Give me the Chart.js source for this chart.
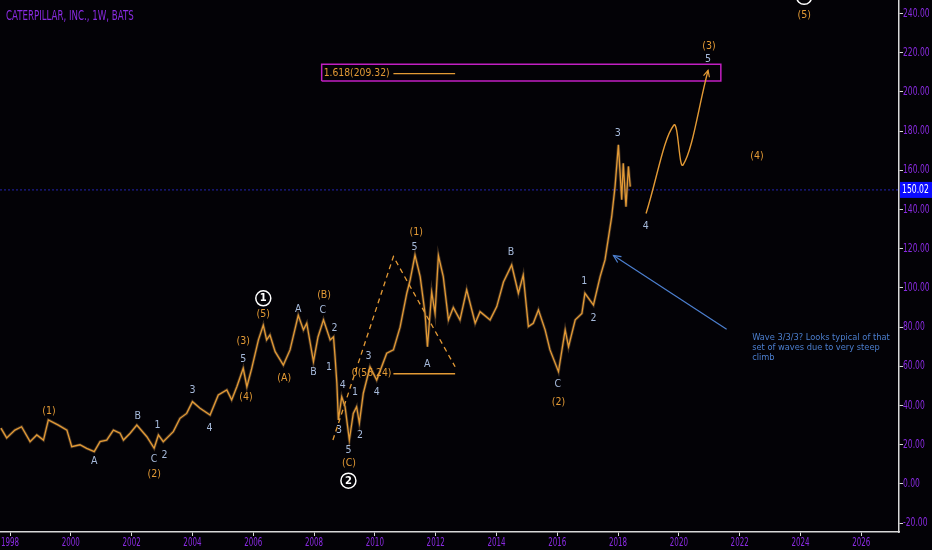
<!DOCTYPE html>
<html>
<head>
<meta charset="utf-8">
<title>CAT 1W</title>
<script src="https://cdn.jsdelivr.net/npm/chart.js@4.4.1/dist/chart.umd.min.js"></script>
<style>
  html, body { margin: 0; padding: 0; background: #030206; }
  #wrap { width: 932px; height: 550px; position: relative; }
</style>
</head>
<body>
<div id="wrap"><canvas id="chart"></canvas></div>
<script>
// weekly price (year, close)
const priceYears = [1997.70, 1997.89, 1998.16, 1998.38, 1998.66, 1998.88, 1999.10, 1999.26, 1999.59, 1999.87,
  2000.03, 2000.30, 2000.52, 2000.77, 2000.96, 2001.18, 2001.40, 2001.62, 2001.73, 2001.95,
  2002.17, 2002.50, 2002.74, 2002.88, 2003.04, 2003.37, 2003.59, 2003.81, 2004.00, 2004.25,
  2004.58, 2004.85, 2005.13, 2005.29, 2005.46, 2005.67, 2005.79, 2005.95, 2006.17, 2006.33,
  2006.44, 2006.55, 2006.72, 2006.99, 2007.21, 2007.48, 2007.65, 2007.76, 2007.98, 2008.13,
  2008.31, 2008.53, 2008.64, 2008.69, 2008.75, 2008.80, 2008.91, 2009.02, 2009.16, 2009.29,
  2009.40, 2009.49, 2009.62, 2009.84, 2010.06, 2010.39, 2010.61, 2010.83, 2011.05, 2011.16,
  2011.32, 2011.49, 2011.65, 2011.73, 2011.87, 2011.98, 2012.09, 2012.25, 2012.42, 2012.58,
  2012.80, 2013.02, 2013.30, 2013.46, 2013.79, 2014.01, 2014.23, 2014.50, 2014.72, 2014.88,
  2015.05, 2015.21, 2015.38, 2015.60, 2015.76, 2016.04, 2016.26, 2016.37, 2016.59, 2016.81,
  2016.91, 2017.19, 2017.41, 2017.57, 2017.79, 2017.90, 2018.01, 2018.12, 2018.17, 2018.26,
  2018.34, 2018.40];
const priceValues = [28.5, 23.5, 27.5, 29.2, 21.6, 25.0, 22.4, 32.7, 30.0, 27.5,
  19.0, 20.0, 18.2, 16.5, 21.6, 22.4, 27.5, 25.9, 22.4, 25.9,
  30.1, 24.1, 18.2, 25.0, 21.6, 26.7, 33.5, 36.0, 42.0, 38.6,
  35.2, 45.4, 48.0, 42.9, 49.6, 59.0, 49.6, 59.0, 73.5, 81.0,
  73.5, 76.0, 67.5, 60.7, 68.4, 86.0, 78.6, 82.0, 62.4, 75.0,
  83.7, 73.5, 75.0, 65.0, 51.4, 32.7, 44.5, 39.4, 22.4, 36.0,
  39.4, 31.0, 46.3, 59.8, 53.0, 66.7, 68.4, 80.0, 97.3, 104.0,
  116.8, 105.8, 87.0, 70.0, 97.9, 87.0, 116.5, 105.8, 83.7, 90.0,
  83.7, 99.0, 82.0, 87.9, 83.7, 90.5, 103.0, 111.7, 97.3, 106.6,
  80.3, 82.0, 88.8, 78.6, 68.4, 57.3, 78.6, 70.0, 83.7, 87.0,
  97.3, 91.3, 105.8, 114.3, 136.4, 151.7, 173.0, 145.0, 163.6, 141.5,
  162.0, 151.7];

// projected path 4 -> 5
const projYears = [2018.92, 2019.83, 2020.14, 2020.96];
const projValues = [138, 183, 162.8, 211];

// dashed triangle and fib levels
const triYears = [2008.62, 2010.61, 2012.64];
const triValues = [22.4, 116, 59.8];
const fibYears = [2010.61, 2012.64];
const fibHigh = 209.32;
const fibLow = 56.24;
const boxYears = [2008.25, 2021.38];
const boxValues = [205.6, 214.1];
const lastPrice = 150.02;

// blue note arrow (tail, tip)
const noteYears = [2021.57, 2017.85];
const noteValues = [78.9, 116.5];
const noteLines = ['Wave 3/3/3? Looks typical of that', 'set of waves due to very steep', 'climb'];

const xTicks = [1998, 2000, 2002, 2004, 2006, 2008, 2010, 2012, 2014, 2016, 2018, 2020, 2022, 2024, 2026];
const yTicks = [-20, 0, 20, 40, 60, 80, 100, 120, 140, 160, 180, 200, 220, 240];

// wave labels: o = orange, b = blue-grey, c = circled
const waveText = ['(1)', 'A', 'B', '1', 'C', '2', '(2)', '3', '4', '5', '(3)', '(4)', '1', '(5)', '(A)', 'A',
  'B', 'C', '(B)', '2', '1', '4', '3', '5', '(C)', '2', '1', '2', '3', '4', '(1)', '5', 'A',
  'B', 'C', '(2)', '1', '2', '3', '4', '(3)', '5', '(4)', '(5)', '3'];
const waveX = [1999.28, 2000.77, 2002.20, 2002.85, 2002.74, 2003.08, 2002.74, 2004.00, 2004.56, 2005.67, 2005.67, 2005.76, 2006.33, 2006.33, 2007.02, 2007.48,
  2007.98, 2008.29, 2008.33, 2008.67, 2008.49, 2008.94, 2008.82, 2009.13, 2009.15, 2009.13, 2009.35, 2009.51, 2009.79, 2010.06, 2011.36, 2011.30, 2011.72,
  2014.48, 2016.02, 2016.04, 2016.89, 2017.19, 2017.99, 2018.91, 2020.99, 2020.96, 2022.57, 2024.12, 2024.12];
const waveY = [37.4, 11.4, 34.7, 30.1, 12.8, 14.8, 5.1, 48.0, 28.7, 63.8, 73.1, 44.5, 94.7, 86.7, 54.2, 89.1,
  57.3, 88.8, 96.4, 79.4, 59.5, 50.5, 27.6, 17.3, 10.6, 1.7, 46.8, 25.0, 65.3, 46.6, 128.7, 120.8, 61.1,
  118.5, 50.9, 42.0, 103.7, 84.5, 178.9, 131.6, 223.5, 216.7, 167.0, 239.3, 248.5];
const waveKind = ['o', 'b', 'b', 'b', 'b', 'b', 'o', 'b', 'b', 'b', 'o', 'o', 'c', 'o', 'o', 'b',
  'b', 'b', 'o', 'b', 'b', 'b', 'b', 'b', 'o', 'c', 'b', 'b', 'b', 'b', 'o', 'b', 'b',
  'b', 'b', 'o', 'b', 'b', 'b', 'b', 'o', 'b', 'o', 'o', 'c'];

const ORANGE = '#e39a35';
const WAVE = '#a6badb';
const PURPLE = '#8a2be2';
const NOTE = '#4c7fcf';
const FONT = "'DejaVu Sans', sans-serif";

function pts(xs, ys) {
  return xs.map((x, i) => ({ x: x, y: ys[i] }));
}

const xMin = 1997.67, xMax = 2027.24;

function arrowHead(ctx, tipX, tipY, fromX, fromY, len, color) {
  let a = Math.atan2(tipY - fromY, tipX - fromX);
  ctx.save();
  ctx.strokeStyle = color;
  ctx.lineWidth = 1.2;
  ctx.beginPath();
  ctx.moveTo(tipX - len * Math.cos(a - 0.45), tipY - len * Math.sin(a - 0.45));
  ctx.lineTo(tipX, tipY);
  ctx.lineTo(tipX - len * Math.cos(a + 0.45), tipY - len * Math.sin(a + 0.45));
  ctx.stroke();
  ctx.restore();
}

// squeezed text, like the narrow font of the original
function narrowText(ctx, s, x, y, sx) {
  ctx.save();
  ctx.translate(x, y);
  ctx.scale(sx, 1);
  ctx.fillText(s, 0, 0);
  ctx.restore();
}

const background = {
  id: 'background',
  beforeDraw(chart) {
    let ctx = chart.ctx;
    ctx.save();
    ctx.fillStyle = '#030206';
    ctx.fillRect(0, 0, chart.width, chart.height);
    ctx.restore();
  }
};

const annotations = {
  id: 'annotations',
  afterDatasetsDraw(chart) {
    let ctx = chart.ctx;
    let xs = chart.scales.x, ys = chart.scales.y;
    let area = chart.chartArea;

    ctx.save();
    ctx.textAlign = 'center';
    ctx.textBaseline = 'middle';
    ctx.font = '11px ' + FONT;
    for (let i = 0; i < waveText.length; i++) {
      let px = xs.getPixelForValue(waveX[i]);
      let py = ys.getPixelForValue(waveY[i]);
      if (waveKind[i] === 'c') {
        ctx.strokeStyle = '#ffffff';
        ctx.lineWidth = 1.5;
        ctx.beginPath();
        ctx.arc(px, py, 7.5, 0, Math.PI * 2);
        ctx.stroke();
        ctx.fillStyle = '#ffffff';
        ctx.font = 'bold 10px ' + FONT;
        ctx.fillText(waveText[i], px, py + 0.5);
        ctx.font = '11px ' + FONT;
      } else {
        ctx.fillStyle = waveKind[i] === 'o' ? ORANGE : WAVE;
        narrowText(ctx, waveText[i], px, py, 0.86);
      }
    }

    // fib texts
    ctx.fillStyle = ORANGE;
    ctx.font = '10.5px ' + FONT;
    ctx.textAlign = 'left';
    narrowText(ctx, '1.618(209.32)', xs.getPixelForValue(boxYears[0]) + 2, ys.getPixelForValue(fibHigh), 0.88);
    ctx.textAlign = 'right';
    narrowText(ctx, '0(56.24)', xs.getPixelForValue(fibYears[0]) - 2, ys.getPixelForValue(fibLow), 0.88);

    // projection arrow head
    let pi = chart.data.datasets.findIndex(d => d.label === 'proj');
    let proj = chart.getDatasetMeta(pi).data;
    let last = proj[proj.length - 1];
    arrowHead(ctx, last.x, last.y, last.cp1x, last.cp1y, 7, ORANGE);

    // note arrow head and text
    let tx = xs.getPixelForValue(noteYears[1]), ty = ys.getPixelForValue(noteValues[1]);
    let fx = xs.getPixelForValue(noteYears[0]), fy = ys.getPixelForValue(noteValues[0]);
    arrowHead(ctx, tx, ty, fx, fy, 8, NOTE);
    ctx.fillStyle = NOTE;
    ctx.textAlign = 'left';
    ctx.font = '9.5px ' + FONT;
    let nx = xs.getPixelForValue(2022.41), ny = ys.getPixelForValue(74.5);
    noteLines.forEach((s, i) => narrowText(ctx, s, nx, ny + i * 10, 0.87));

    // title
    ctx.fillStyle = PURPLE;
    ctx.font = '13.5px ' + FONT;
    narrowText(ctx, 'CATERPILLAR, INC., 1W, BATS', 6, 16, 0.64);

    // axis labels
    ctx.font = '11.5px ' + FONT;
    ctx.fillStyle = PURPLE;
    ys.ticks.forEach(t => narrowText(ctx, t.value.toFixed(2), area.right + 4, ys.getPixelForValue(t.value), 0.66));
    ctx.textAlign = 'center';
    xs.ticks.forEach(t => narrowText(ctx, String(t.value), xs.getPixelForValue(t.value), area.bottom + 11, 0.62));

    // last price tag
    let lp = ys.getPixelForValue(lastPrice);
    ctx.fillStyle = '#0b0bff';
    ctx.fillRect(area.right + 1, lp - 8, chart.width - area.right - 1, 16);
    ctx.fillStyle = '#ffffff';
    ctx.textAlign = 'left';
    ctx.font = '12px ' + FONT;
    narrowText(ctx, lastPrice.toFixed(2), area.right + 3, lp, 0.64);
    ctx.restore();
  }
};

new Chart(document.getElementById('chart'), {
  type: 'line',
  data: {
    datasets: [
      { label: 'price', data: pts(priceYears, priceValues), borderColor: ORANGE, borderWidth: 1.3, pointRadius: 0, tension: 0 },
      { label: 'band', data: pts(priceYears, priceValues), borderColor: 'rgba(200,150,90,0.3)', borderWidth: 3, pointRadius: 0, tension: 0 },
      { label: 'proj', data: pts(projYears, projValues), borderColor: ORANGE, borderWidth: 1.4, pointRadius: 0, tension: 0.4 },
      { label: 'tri', data: pts(triYears, triValues), borderColor: ORANGE, borderWidth: 1.3, borderDash: [5, 4], pointRadius: 0 },
      { label: 'fib1618', data: pts(fibYears, [fibHigh, fibHigh]), borderColor: ORANGE, borderWidth: 1.3, pointRadius: 0 },
      { label: 'fib0', data: pts(fibYears, [fibLow, fibLow]), borderColor: ORANGE, borderWidth: 1.5, pointRadius: 0 },
      { label: 'last', data: pts([xMin, xMax], [lastPrice, lastPrice]), borderColor: '#2424b0', borderWidth: 1, borderDash: [2, 2], pointRadius: 0 },
      { label: 'box', data: pts([boxYears[0], boxYears[1], boxYears[1], boxYears[0], boxYears[0]], [boxValues[0], boxValues[0], boxValues[1], boxValues[1], boxValues[0]]),
        borderColor: '#c21fc2', borderWidth: 1.5, pointRadius: 0 },
      { label: 'note', data: pts(noteYears, noteValues), borderColor: NOTE, borderWidth: 1.2, pointRadius: 0 }
    ]
  },
  options: {
    responsive: true,
    maintainAspectRatio: false,
    animation: false,
    layout: { padding: 0 },
    plugins: { legend: { display: false }, tooltip: { enabled: false } },
    scales: {
      x: {
        type: 'linear',
        min: xMin,
        max: xMax,
        afterBuildTicks: (s) => { s.ticks = xTicks.map(v => ({ value: v })); },
        afterFit: (s) => { s.height = 18; },
        grid: { drawOnChartArea: false, drawTicks: true, tickLength: 4, color: '#d8d8d8' },
        border: { display: true, color: '#d8d8d8', width: 1.5 },
        ticks: { display: false }
      },
      y: {
        position: 'right',
        min: -24.5,
        max: 246.9,
        afterBuildTicks: (s) => { s.ticks = yTicks.map(v => ({ value: v })); },
        afterFit: (s) => { s.width = 33; },
        grid: { drawOnChartArea: false, drawTicks: true, tickLength: 4, color: '#d8d8d8' },
        border: { display: true, color: '#d8d8d8', width: 1.5 },
        ticks: { display: false }
      }
    }
  },
  plugins: [background, annotations]
});
</script>
</body>
</html>
